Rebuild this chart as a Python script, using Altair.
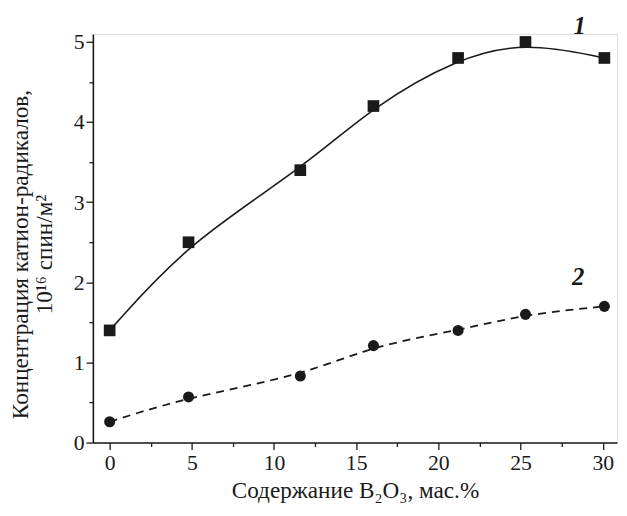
import altair as alt
import pandas as pd

x_vals = [0, 4.8, 11.6, 16.05, 21.2, 25.3, 30.1]
series1 = [1.40, 2.50, 3.40, 4.20, 4.80, 5.00, 4.80]
series2 = [0.26, 0.57, 0.83, 1.21, 1.40, 1.60, 1.70]

x_major = [0, 5, 10, 15, 20, 25, 30]
x_minor = [2.5, 7.5, 12.5, 17.5, 22.5, 27.5]
y_major = [0, 1, 2, 3, 4, 5]
y_minor = [0.5, 1.5, 2.5, 3.5, 4.5]

curve_labels = ["1", "2"]
label_x = [28.6, 28.5]
label_y = [5.2, 2.06]

df1 = pd.DataFrame({"x": x_vals, "y": series1})
df2 = pd.DataFrame({"x": x_vals, "y": series2})
dfl = pd.DataFrame({"x": label_x, "y": label_y, "t": curve_labels})

FONT = "Liberation Serif"
INK = "#1a1a1a"

xscale = alt.Scale(domain=[-1.02, 30.87], nice=False, zero=False)
yscale = alt.Scale(domain=[0, 5.1], nice=False, zero=False)

xaxis = alt.Axis(values=x_major, orient="bottom", grid=False, tickSize=7, tickWidth=1.3,
                 tickColor=INK, domainColor=INK, domainWidth=1.6, labelFont=FONT,
                 labelFontSize=22, labelColor=INK, labelPadding=3, labelFlush=False,
                 title="Содержание B₂O₃, мас.%", titleFont=FONT, titleFontSize=23.5,
                 titleFontWeight="normal", titleColor=INK, titlePadding=6)
yaxis = alt.Axis(values=y_major, orient="left", grid=False, tickSize=7, tickWidth=1.3,
                 tickColor=INK, domainColor=INK, domainWidth=1.6, labelFont=FONT,
                 labelFontSize=22, labelColor=INK, labelPadding=2, labelFlush=False,
                 title=["Концентрация катион-радикалов,", "10¹⁶ спин/м²"],
                 titleFont=FONT, titleFontSize=23.5, titleFontWeight="normal",
                 titleColor=INK, titleLineHeight=24, titleX=-61, titleY=223)

xminor_axis = alt.Axis(values=x_minor, orient="bottom", grid=False, tickSize=4, tickWidth=1.3,
                       tickColor=INK, domain=False, labels=False, title=None)
yminor_axis = alt.Axis(values=y_minor, orient="left", grid=False, tickSize=4, tickWidth=1.3,
                       tickColor=INK, domain=False, labels=False, title=None)

line1 = alt.Chart(df1).mark_line(color=INK, strokeWidth=1.6, interpolate="basis").encode(
    x=alt.X("x:Q", scale=xscale, axis=xaxis),
    y=alt.Y("y:Q", scale=yscale, axis=yaxis),
)
pts1 = alt.Chart(df1).mark_point(shape="square", filled=True, color=INK, size=140, opacity=1).encode(
    x=alt.X("x:Q", scale=xscale, axis=xminor_axis),
    y=alt.Y("y:Q", scale=yscale, axis=yminor_axis),
)
line2 = alt.Chart(df2).mark_line(color=INK, strokeWidth=1.8, strokeDash=[8, 6],
                                 interpolate="basis").encode(
    x=alt.X("x:Q", scale=xscale, axis=None),
    y=alt.Y("y:Q", scale=yscale, axis=None),
)
pts2 = alt.Chart(df2).mark_point(shape="circle", filled=True, color=INK, size=125, opacity=1).encode(
    x=alt.X("x:Q", scale=xscale, axis=None),
    y=alt.Y("y:Q", scale=yscale, axis=None),
)
labels = alt.Chart(dfl).mark_text(font=FONT, fontSize=25, fontWeight="bold", fontStyle="italic",
                                  color=INK).encode(
    x=alt.X("x:Q", scale=xscale, axis=None),
    y=alt.Y("y:Q", scale=yscale, axis=None),
    text="t:N",
)

chart = alt.layer(line1, pts1, line2, pts2, labels).resolve_axis(
    x="independent", y="independent"
).properties(
    width=531, height=414,
    autosize=alt.AutoSizeParams(type="none"),
    padding={"left": 86, "top": 23, "right": 2, "bottom": 62},
).configure_view(stroke=None).configure(background="white")

chart.save("out.html", embed_options={"renderer": "svg", "actions": False})
